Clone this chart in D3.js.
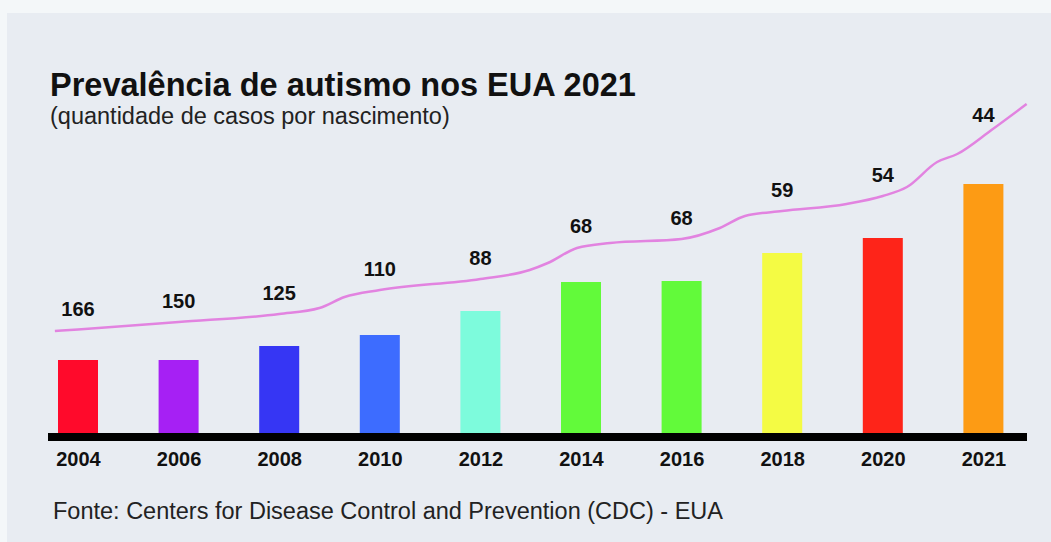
<!doctype html>
<html>
<head>
  <meta charset="utf-8">
  <style>
    body { margin: 0; background: #f4f7f9; }
    svg { display: block; font-family: "Liberation Sans", Arial, sans-serif; }
  </style>
  <script src="https://cdn.jsdelivr.net/npm/d3@7"></script>
</head>
<body>
  <script>
  // categories and values
  var years = ["2004", "2006", "2008", "2010", "2012", "2014", "2016", "2018", "2020", "2021"];
  var casesPer = [166, 150, 125, 110, 88, 68, 68, 59, 54, 44];      // "1 em N" labels
  var barLevel = [7.3, 7.3, 8.7, 9.8, 12.2, 15.1, 15.2, 18.0, 19.5, 24.9]; // bar heights (index)
  var barColors = ["#ff0a2b", "#a620f4", "#3636f4", "#3d6cff", "#7dfbdc", "#62fa3a",
                   "#62fa3a", "#f4fb44", "#fe2419", "#fd9b14"];
  // pink trend line (position in year index, level)
  var lineIdx = [-0.23, 0, 1, 2, 2.4, 2.65, 3, 4, 4.49, 4.67, 4.96, 5.29, 6, 6.38, 6.63, 7, 7.64, 8, 8.24, 8.54, 8.74, 9.08, 9.43];
  var lineLvl = [10.2, 10.35, 11.1, 11.9, 12.5, 13.6, 14.3, 15.4, 16.3, 17.0, 18.5, 19.0, 19.4, 20.5, 21.7, 22.2, 22.9, 23.7, 24.6, 27.1, 27.9, 30.3, 32.9];

  var W = 1051, H = 542;
  var svg = d3.select("body").append("svg")
    .attr("width", W)
    .attr("height", H);

  // panel
  svg.append("rect")
    .attr("x", 7).attr("y", 13)
    .attr("width", W - 7).attr("height", H - 13)
    .attr("fill", "#e8ecf2");

  var x = d3.scaleLinear().domain([0, 9]).range([78, 983.4]);
  var y = d3.scaleLinear().domain([0, 25]).range([433, 183]);
  var barW = 40;

  // bars
  svg.selectAll("rect.bar")
    .data(barLevel)
    .enter()
    .append("rect")
    .attr("class", "bar")
    .attr("x", function(d, i) { return x(i) - barW / 2; })
    .attr("y", function(d) { return y(d); })
    .attr("width", barW)
    .attr("height", function(d) { return y(0) - y(d); })
    .attr("fill", function(d, i) { return barColors[i]; });

  // thick baseline
  svg.append("rect")
    .attr("x", 48).attr("y", y(0))
    .attr("width", 1027 - 48).attr("height", 8)
    .attr("fill", "#000");

  // year axis
  var axis = d3.axisBottom(x)
    .tickValues(d3.range(years.length))
    .tickFormat(function(i) { return years[i]; })
    .tickSize(0)
    .tickPadding(0);
  var gx = svg.append("g")
    .attr("transform", "translate(0,452)")
    .call(axis);
  gx.select(".domain").remove();
  gx.selectAll("text")
    .attr("font-family", "'Liberation Sans', Arial, sans-serif")
    .attr("font-size", "20px")
    .attr("font-weight", "bold")
    .attr("fill", "#111");

  // trend line
  var lineData = lineIdx.map(function(d, i) { return [d, lineLvl[i]]; });
  var line = d3.line()
    .x(function(d) { return x(d[0]); })
    .y(function(d) { return y(d[1]); })
    .curve(d3.curveMonotoneX);
  svg.append("path")
    .datum(lineData)
    .attr("d", line)
    .attr("fill", "none")
    .attr("stroke", "#e283e0")
    .attr("stroke-width", 2.5);

  // value labels above the line
  var lineAt = d3.scaleLinear().domain(lineIdx).range(lineLvl);
  svg.selectAll("text.val")
    .data(casesPer)
    .enter()
    .append("text")
    .attr("class", "val")
    .attr("x", function(d, i) { return x(i); })
    .attr("y", function(d, i) { return y(lineAt(i)) - 14; })
    .attr("text-anchor", "middle")
    .attr("font-size", "20px")
    .attr("font-weight", "bold")
    .attr("fill", "#111")
    .text(function(d) { return d; });

  // titles
  svg.append("text")
    .attr("x", 50).attr("y", 96)
    .attr("font-size", "32.5px")
    .attr("font-weight", "bold")
    .attr("fill", "#111")
    .text("Prevalência de autismo nos EUA 2021");
  svg.append("text")
    .attr("x", 50).attr("y", 124)
    .attr("font-size", "23.5px")
    .attr("fill", "#222")
    .text("(quantidade de casos por nascimento)");
  svg.append("text")
    .attr("x", 53).attr("y", 519)
    .attr("font-size", "23.5px")
    .attr("fill", "#222")
    .text("Fonte: Centers for Disease Control and Prevention (CDC) - EUA");
  </script>
</body>
</html>
